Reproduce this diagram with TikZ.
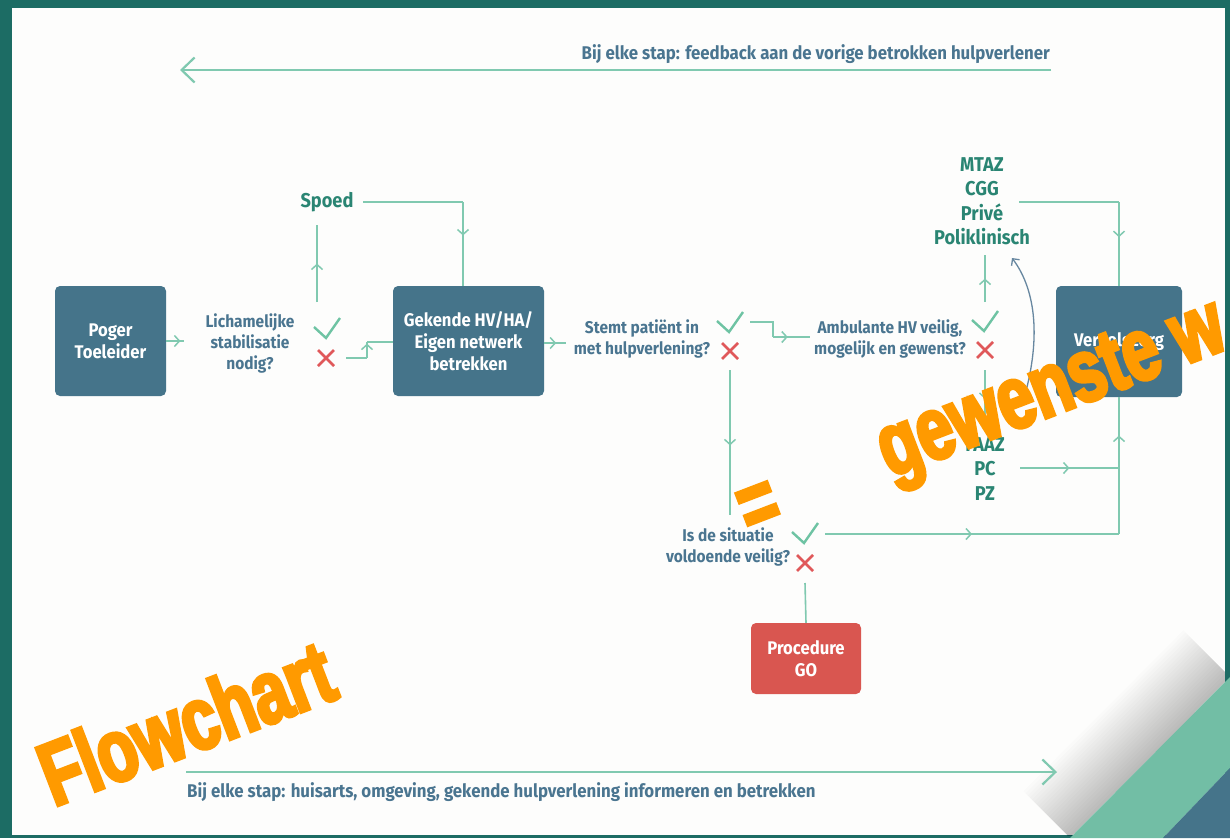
\documentclass[tikz,border=0pt]{standalone}
\usepackage{fontspec}
\setmainfont{Fira Sans}
\newfontfamily\dfont[FakeStretch=0.91]{Fira Sans}
\newfontfamily\nfont[FakeStretch=0.915]{Fira Sans}
\newfontfamily\ofont[FakeStretch=0.73,FakeBold=4]{Liberation Sans Bold}
\usetikzlibrary{arrows.meta,decorations.markings,calc}
\definecolor{borderC}{HTML}{1C6C64}
\definecolor{pageC}{HTML}{FDFDFC}
\definecolor{boxC}{HTML}{45748A}
\definecolor{redC}{HTML}{D95650}
\definecolor{lineC}{HTML}{80C9B0}
\definecolor{txtC}{HTML}{4A7590}
\definecolor{tealC}{HTML}{2A8573}
\definecolor{chkC}{HTML}{6EC3A3}
\definecolor{crossC}{HTML}{E0585A}
\definecolor{curveC}{HTML}{6787A0}
\definecolor{orangeC}{HTML}{FF9A00}
\definecolor{stripeG}{HTML}{72BEA5}
\definecolor{stripeB}{HTML}{45748A}
\begin{document}
\begin{tikzpicture}[x=1pt,y=-1pt,
  box/.style={rectangle, rounded corners=5pt, fill=boxC, text=white, align=center,
    font=\dfont\bfseries\fontsize{18.3}{22}\selectfont, inner sep=0pt},
  q/.style={align=center, text=txtC, font=\dfont\bfseries\fontsize{17}{21}\selectfont, inner sep=0pt},
  note/.style={text=txtC, font=\nfont\bfseries\fontsize{18.4}{22}\selectfont, inner sep=0pt},
  lab/.style={align=center, text=tealC, font=\dfont\bfseries\fontsize{20}{24.5}\selectfont, inner sep=0pt},
  flow/.style={draw=lineC, line width=1.6pt},
  mid/.style={postaction={decorate}, decoration={markings,
    mark=at position #1 with {\arrow[lineC, line width=1.5pt]{Straight Barb[length=5pt,width=11pt]}}}},
  mid/.default=0.5,
  ckmark/.style={minimum width=36pt, minimum height=32pt, inner sep=0pt,
    path picture={\draw[chkC, line width=2.4pt] (path picture bounding box.center) ++(-13,-1) -- ++(12,11) -- ++(14,-20);}},
  xmark/.style={minimum width=30pt, minimum height=30pt, inner sep=0pt,
    path picture={\draw[crossC, line width=2.6pt] (path picture bounding box.center) ++(-8,-8) -- ++(16,16)
      (path picture bounding box.center) ++(-8,8) -- ++(16,-16);}},
  ovl/.style={text=orangeC, font=\ofont\fontsize{89}{89}\selectfont, inner sep=0pt, rotate=21}
]
\useasboundingbox (0,0) rectangle (1230,838);
% background and frame
\fill[borderC] (0,0) rectangle (1230,838);
\fill[pageC] (12,8) rectangle (1225,835);
\begin{scope}
  \clip (12,8) rectangle (1225,835);
  \foreach \d in {3,6,...,66} {
    \fill[black, opacity=0.011] (1070,838) -- (1230,677) -- ++(-0.707*\d,-0.707*\d) -- ($(1070,838)+(-0.707*\d,-0.707*\d)$) -- cycle;
  }
\end{scope}
\fill[stripeG] (1070,838) -- (1230,677) -- (1230,768) -- (1163,838) -- cycle;
\fill[stripeB] (1163,838) -- (1230,768) -- (1230,838) -- cycle;

% top and bottom notes
\node[note, anchor=base east] (fb) at (1050,59) {Bij elke stap: feedback aan de vorige betrokken hulpverlener};
\coordinate (fbR) at (1051,70);
\coordinate (fbL) at (180,70);
\draw[flow, line width=2.2pt, -{Straight Barb[length=13pt,width=25pt]}] (fbR) -- (fbL);
\node[note, anchor=base west] (inf) at (187,797) {Bij elke stap: huisarts, omgeving, gekende hulpverlening informeren en betrekken};
\coordinate (infL) at (186,772);
\coordinate (infR) at (1057,772);
\draw[flow, line width=2.2pt, -{Straight Barb[length=13pt,width=25pt]}] (infL) -- (infR);

% nodes
\node[box, minimum width=111pt, minimum height=110pt] (poger) at (110.5,341) {Poger\\Toeleider};
\node[q] (q1) at (250,343) {Lichamelijke\\stabilisatie\\nodig?};
\node[ckmark] (c1) at (327,328) {};
\node[xmark] (x1) at (326,358) {};
\node[lab] (spoed) at (327,202) {Spoed};
\node[box, minimum width=151pt, minimum height=110pt] (gek) at (468.5,341) {Gekende HV/HA/\\Eigen netwerk\\betrekken};
\node[q] (q2) at (642,339) {Stemt patiënt in\\met hulpverlening?};
\node[ckmark] (c2) at (730,322) {};
\node[xmark] (x2) at (730,351) {};
\node[q] (q3) at (890,339) {Ambulante HV veilig,\\mogelijk en gewenst?};
\node[ckmark] (c3) at (985,321) {};
\node[xmark] (x3) at (985,350) {};
\node[lab] (amb) at (982,201) {MTAZ\\CGG\\Privé\\Poliklinisch};
\node[box, minimum width=126pt, minimum height=111pt] (verv) at (1119,341.5) {Vervolgzorg};
\node[lab] (opn) at (985,469) {FAAZ\\PC\\PZ};
\node[q] (q4) at (728,547) {Is de situatie\\voldoende veilig?};
\node[ckmark] (c4) at (805,533) {};
\node[xmark] (x4) at (805,563) {};
\node[box, fill=redC, minimum width=110pt, minimum height=71pt] (go) at (806,658.5) {Procedure\\GO};

% connectors
\coordinate (a1) at (184,341);
\draw[flow, mid=0.8] (poger.east) -- (a1);
\coordinate (b1) at (317,302);
\coordinate (b2) at (317,225);
\draw[flow, mid] (b1) -- (b2);
\coordinate (s1) at (363,202);
\coordinate (s2) at (463,202);
\draw[flow] (s1) -- (s2);
\draw[flow, mid=0.4] (s2) -- (s2 |- gek.north);
\coordinate (t1) at (346,358);
\coordinate (t2) at (367,358);
\coordinate (t3) at (367,342);
\draw[flow] (t1) -- (t2);
\draw[flow, mid=0.9] (t2) -- (t3);
\draw[flow] (t3) -- (t3 -| gek.west);
\coordinate (g1) at (566,343);
\draw[flow, mid=0.55] (gek.east |- g1) -- (g1);
\coordinate (u1) at (750,322);
\coordinate (u2) at (773,322);
\coordinate (u3) at (773,337);
\coordinate (u4) at (810,337);
\draw[flow] (u1) -- (u2) -- (u3);
\draw[flow, mid=0.4] (u3) -- (u4);
\coordinate (v1) at (730,370);
\coordinate (v2) at (730,515);
\draw[flow, mid=0.52] (v1) -- (v2);
\coordinate (w1) at (985,302);
\coordinate (w2) at (985,255);
\draw[flow, mid] (w1) -- (w2);
\coordinate (y1) at (985,370);
\coordinate (y2) at (985,428);
\draw[flow, mid] (y1) -- (y2);
\coordinate (m1) at (1019,202);
\coordinate (m2) at (1119,202);
\draw[flow] (m1) -- (m2);
\draw[flow, mid=0.42] (m2) -- (verv.north);
\coordinate (p1) at (1020,468);
\coordinate (p2) at (1119,468);
\draw[flow, mid] (p1) -- (p2);
\coordinate (k1) at (825,534);
\coordinate (k2) at (1119,534);
\draw[flow, mid] (k1) -- (k2);
\draw[flow, mid=0.72] (k2) -- (verv.south);
\coordinate (r1) at (805,583);
\draw[flow] (r1) -- (go.north);
\coordinate (cv1) at (1022,405);
\coordinate (cv2) at (1012,258);
\draw[curveC, line width=1.3pt, -{Straight Barb[length=5pt,width=10pt]}] (cv1) .. controls (1042,340) and (1036,290) .. (cv2);

% overlay
\begin{scope}
  \clip (0,0) rectangle (1230,838);
  \node[ovl, anchor=base west] (ov1) at (54,807) {Flowchart};
  \node[ovl, anchor=base] (ov2) at (768,531) {=};
  \node[ovl, anchor=base west] (ov3) at (890,478) {gewenste w};
\end{scope}
\end{tikzpicture}
\end{document}
